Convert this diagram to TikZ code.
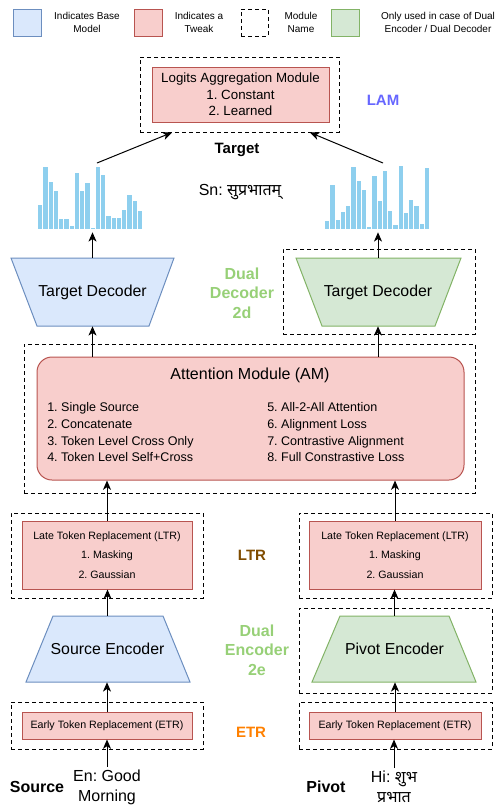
\documentclass[tikz,border=0pt]{standalone}
\usepackage{fontspec}
\setmainfont{Liberation Sans}
\newfontfamily\deva[Script=Devanagari]{Noto Sans}
\usetikzlibrary{arrows.meta}
\definecolor{bfill}{HTML}{DAE8FC}\definecolor{bdraw}{HTML}{6C8EBF}
\definecolor{rfill}{HTML}{F8CECC}\definecolor{rdraw}{HTML}{B85450}
\definecolor{gfill}{HTML}{D5E8D4}\definecolor{gdraw}{HTML}{82B366}
\definecolor{barc}{HTML}{8ECFEE}
\definecolor{lamc}{HTML}{6666FF}
\definecolor{dualc}{HTML}{97D077}
\definecolor{ltrc}{HTML}{7F4C00}
\definecolor{etrc}{HTML}{FF8000}
\tikzset{
 lw/.style={line width=0.75pt},
 dbox/.style={draw, dash pattern=on 3pt off 2.25pt, line width=0.75pt, inner sep=0pt},
 redbox/.style={draw=rdraw, fill=rfill, line width=0.75pt, inner sep=0pt, align=center},
 arr/.style={line width=0.75pt, -{Stealth[length=7pt,width=6pt,inset=2pt]}},
 plain/.style={inner sep=0pt, align=center},
 sz/.style 2 args={minimum width=#1*0.75pt, minimum height=#2*0.75pt},
 fs/.style 2 args={font=\fontsize{#1}{#2}\selectfont\frenchspacing},
}
\begin{document}
\begin{tikzpicture}[x=0.75pt,y=-0.75pt]
\useasboundingbox (0,0) rectangle (500,808);
% legend
\node[draw=bdraw, fill=bfill, lw, sz={28}{27}] (legB) at (27,22.5) {};
\node[draw=rdraw, fill=rfill, lw, sz={28}{27}] (legR) at (148,22.5) {};
\node[dbox, sz={27}{27}] (legD) at (254.5,22.5) {};
\node[draw=gdraw, fill=gfill, lw, sz={28}{27}] (legG) at (345,22.5) {};
\node[plain, fs={7.5}{9.75}] (tB) at (87,22.5) {Indicates Base\\Model};
\node[plain, fs={7.5}{9.75}] (tR) at (199,22.5) {Indicates a\\Tweak};
\node[plain, fs={7.5}{9.75}] (tD) at (301,22.5) {Module\\Name};
\node[plain, fs={7.5}{9.75}] (tG) at (438,22.5) {Only used in case of Dual\\Encoder / Dual Decoder};
% LAM
\node[dbox, sz={199}{75}] (lamO) at (239.5,94.5) {};
\node[redbox, sz={177}{55}, fs={10}{12.4}] (lamI) at (240.5,94.5) {Logits Aggregation Module\\1. Constant\\2. Learned};
\node[plain, fs={11.25}{13}, text=lamc] (lamL) at (383,100) {\bfseries LAM};
\node[plain, fs={11.25}{13}] (tgt) at (237,150) {\bfseries Target};
\node[plain, fs={12}{14}] (sn) at (240,192) {Sn: {\deva सुप्रभातम्}};
% histograms
\foreach \t [count=\i from 0] in {205,167.3,182,190.7,219.3,219.3,226,173.3,190.7,183.3,228.3,166.7,175.3,215.7,218,218,210,195,201.3,210.7}
  \fill[barc] ({38+\i*5.25},229) rectangle ({42.4+\i*5.25},\t);
\foreach \t [count=\i from 0] in {221,185,220,212,205.7,166.7,181,190,227.3,175.7,200.7,171,211,225.3,166,213.3,200,206.3,224,168}
  \fill[barc] ({325+\i*5.25},229) rectangle ({329.4+\i*5.25},\t);
\node[plain, sz={105}{66}] (histL) at (90.5,199) {};
\node[plain, sz={105}{66}] (histR) at (377,199) {};
\coordinate (hLt) at (97,163);
\coordinate (hRt) at (383,163);
\draw[arr] (hLt) -- (172,132 |- lamO.south);
\draw[arr] (hRt) -- (310,132 |- lamO.south);
% decoders
\draw[draw=bdraw, fill=bfill, lw] (11,258) -- (174,258) -- (149,326) -- (37,326) -- cycle;
\node[plain, sz={163}{68}, fs={11.9}{13}] (tdl) at (92.5,292) {Target Decoder};
\node[dbox, sz={192}{85}] (dd2) at (379,291.5) {};
\draw[draw=gdraw, fill=gfill, lw] (296,258) -- (461,258) -- (435,326) -- (322,326) -- cycle;
\node[plain, sz={165}{68}, fs={11.9}{13}] (tdr) at (378,292) {Target Decoder};
\node[plain, fs={12}{14.6}, text=dualc] (dualD) at (242,293) {\bfseries Dual\\\bfseries Decoder\\\bfseries 2d};
\draw[arr] (tdl.north) -- (tdl.north |- histL.south);
\draw[arr] (tdr.north) -- (tdr.north |- histR.south);
% AM
\node[dbox, sz={451}{149}] (amO) at (249.5,418.5) {};
\node[draw=rdraw, fill=rfill, lw, rounded corners=11.25pt, sz={427}{123}] (amI) at (250.5,418.5) {};
\node[plain, fs={12}{14}] (amT) at (250,375) {Attention Module (AM)};
\node[plain, anchor=west, align=left, fs={9.4}{12.5}] (amL) at (47,432.5) {1. Single Source\\2. Concatenate\\3. Token Level Cross Only\\4. Token Level Self+Cross};
\node[plain, anchor=west, align=left, fs={9.4}{12.5}] (amR) at (267,432.5) {5. All-2-All Attention\\6. Alignment Loss\\7. Contrastive Alignment\\8. Full Constrastive Loss};
\draw[arr] (amI.north -| tdl) -- (tdl.south);
\draw[arr] (amI.north -| tdr) -- (tdr.south);
% LTR
\node[dbox, sz={192}{85}] (ltrLO) at (107,555.5) {};
\node[redbox, sz={170}{68}, fs={8}{14.6}] (ltrL) at (107,555) {Late Token Replacement (LTR)\\1. Masking\\2. Gaussian};
\node[dbox, sz={193}{85}] (ltrRO) at (395.5,555.5) {};
\node[redbox, sz={172}{68}, fs={8}{14.6}] (ltrR) at (395,555) {Late Token Replacement (LTR)\\1. Masking\\2. Gaussian};
\node[plain, fs={11.25}{13}, text=ltrc] (ltrLab) at (252,555) {\bfseries LTR};
\draw[arr] (ltrL.north) -- (ltrL.north |- amI.south);
\draw[arr] (ltrR.north) -- (ltrR.north |- amI.south);
% encoders
\draw[draw=bdraw, fill=bfill, lw] (53,616) -- (163,616) -- (190,682) -- (26,682) -- cycle;
\node[plain, sz={164}{66}, fs={11.9}{13}] (senc) at (107.5,649) {Source Encoder};
\node[dbox, sz={193}{85}] (de2) at (395.5,650.5) {};
\draw[draw=gdraw, fill=gfill, lw] (340,616) -- (449,616) -- (476,682) -- (312,682) -- cycle;
\node[plain, sz={164}{66}, fs={11.9}{13}] (penc) at (394.5,649) {Pivot Encoder};
\node[plain, fs={12}{14.6}, text=dualc] (dualE) at (257,650) {\bfseries Dual\\\bfseries Encoder\\\bfseries 2e};
\draw[arr] (senc.north) -- (senc.north |- ltrL.south);
\draw[arr] (penc.north) -- (penc.north |- ltrR.south);
% ETR
\node[dbox, sz={192}{47}] (etrLO) at (107,725.5) {};
\node[redbox, sz={170}{27}, fs={8}{10}] (etrL) at (107,725.5) {Early Token Replacement (ETR)};
\node[dbox, sz={193}{47}] (etrRO) at (395.5,725.5) {};
\node[redbox, sz={172}{27}, fs={8}{10}] (etrR) at (395,725.5) {Early Token Replacement (ETR)};
\node[plain, fs={11.25}{13}, text=etrc] (etrLab) at (251,732) {\bfseries ETR};
\draw[arr] (etrL.north) -- (etrL.north |- senc.south);
\draw[arr] (etrR.north) -- (etrR.north |- penc.south);
% inputs
\node[plain, fs={12}{14}] (srcL) at (37,787) {\bfseries Source};
\node[plain, fs={12}{14}] (pvtL) at (326,787) {\bfseries Pivot};
\node[plain, fs={12}{15}, inner sep=2pt] (inS) at (107,787) {En: Good\\Morning};
\node[plain, fs={12}{15}, inner sep=2pt] (inP) at (394,787) {Hi: {\deva शुभ}\\{\deva प्रभात}};
\draw[arr] (inS.north) -- (inS.north |- etrL.south);
\draw[arr] (inP.north) -- (inP.north |- etrR.south);
\end{tikzpicture}
\end{document}
